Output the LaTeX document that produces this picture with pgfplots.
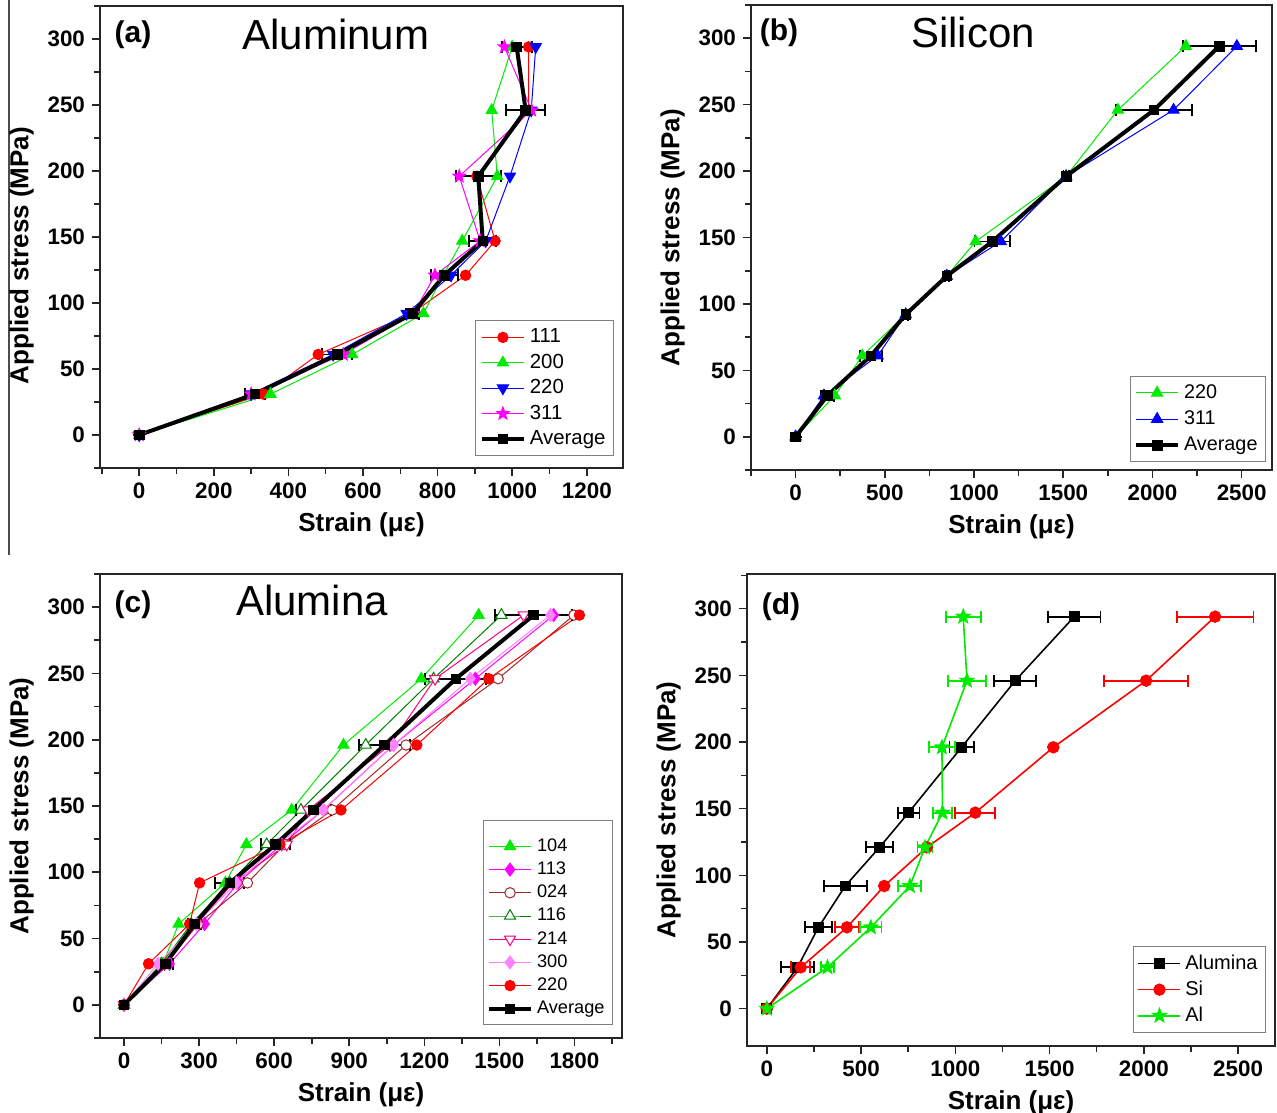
\documentclass[border=0pt]{standalone}
\usepackage{fontspec}
\setmainfont{Liberation Sans}
\usepackage{pgfplots}
\pgfplotsset{compat=1.18}
\usetikzlibrary{plotmarks}

\definecolor{cgreen}{RGB}{0,235,0}
\definecolor{cblue}{RGB}{0,0,255}
\definecolor{cred}{RGB}{255,0,0}
\definecolor{cmag}{RGB}{255,0,255}
\definecolor{cbrown}{RGB}{160,40,40}
\definecolor{cdgreen}{RGB}{0,128,0}
\definecolor{cpink}{RGB}{255,0,128}
\definecolor{cviolet}{RGB}{255,130,255}

\pgfdeclareplotmark{fstar}{%
 \pgfpathmoveto{\pgfqpointpolar{90}{\pgfplotmarksize}}%
 \pgfpathlineto{\pgfqpointpolar{126}{0.42\pgfplotmarksize}}%
 \pgfpathlineto{\pgfqpointpolar{162}{\pgfplotmarksize}}%
 \pgfpathlineto{\pgfqpointpolar{198}{0.42\pgfplotmarksize}}%
 \pgfpathlineto{\pgfqpointpolar{234}{\pgfplotmarksize}}%
 \pgfpathlineto{\pgfqpointpolar{270}{0.42\pgfplotmarksize}}%
 \pgfpathlineto{\pgfqpointpolar{306}{\pgfplotmarksize}}%
 \pgfpathlineto{\pgfqpointpolar{342}{0.42\pgfplotmarksize}}%
 \pgfpathlineto{\pgfqpointpolar{18}{\pgfplotmarksize}}%
 \pgfpathlineto{\pgfqpointpolar{54}{0.42\pgfplotmarksize}}%
 \pgfpathclose\pgfusepathqfillstroke}

\pgfplotsset{
 panel/.style={
   scale only axis,
   axis line style={line width=0.9pt, black!85},
   tick align=outside,
   xtick pos=left, ytick pos=left,
   major tick length=4pt, minor tick length=3pt,
   every tick/.style={black!85, line width=0.8pt},
   ymin=-25, ymax=325, ytick={0,50,...,300},
   minor ytick={-25,25,...,325},
   ticklabel style={font=\bfseries\fontsize{11.2}{13}\selectfont},
   /pgf/number format/assume math mode=true,
   /pgf/number format/1000 sep={},
   label style={font=\bfseries\fontsize{13}{15}\selectfont},
   xlabel={Strain (με)}, ylabel={Applied stress (MPa)},
   legend style={draw=black!50, line width=0.5pt, anchor=south east, at={(1,0)},
     cells={anchor=west}, inner sep=2pt},
   legend image code/.code={\draw[mark repeat=2,mark phase=2,##1] plot coordinates {(0pt,0pt) (10.5pt,0pt) (21pt,0pt)};},
 },
 thin/.style={line width=0.5pt},
 avg/.style={black, line width=2pt, mark=square*, mark size=2.4pt,
   mark options={solid, fill=black, line width=0.4pt},
   error bars/.cd, x dir=both, x explicit,
   error bar style={line width=0.9pt, black},
   error mark options={rotate=90, mark size=3pt, line width=0.9pt, black}},
 eb/.style={error bars/.cd, x dir=both, x explicit,
   error bar style={line width=0.9pt, #1},
   error mark options={rotate=90, mark size=3pt, line width=0.9pt, #1}},
}

\begin{document}
\begin{tikzpicture}
\useasboundingbox (0,0) rectangle (638.5pt,556pt);
\draw[black!70, line width=0.6pt] (4.5pt,556pt) -- (4.5pt,278.5pt);

% ---------------- (a) Aluminum
\begin{axis}[panel, at={(50pt,322pt)}, anchor=south west, width=261.5pt, height=231pt,
  xmin=-105, xmax=1297, xtick={0,200,...,1200}, minor xtick={-100,100,...,1300},
  ylabel style={at={(ticklabel cs:0.46)}},
  legend style={font=\fontsize{10.2}{12}\selectfont, xshift=-4.5pt, yshift=6pt, row sep=0.1pt}]
\addplot[cred, thin, mark=*, mark size=2.6pt, mark options={solid,fill=cred}] coordinates {(0,0) (333,31) (480,61) (730,92) (875,121) (954,147) (905,196) (1044,246) (1044,294)};
\addlegendentry{111}
\addplot[cgreen, thin, mark=triangle*, mark size=3.2pt, mark options={solid,fill=cgreen}] coordinates {(0,0) (352,31) (571,61) (762,92) (815,121) (866,147) (960,196) (945,246) (1000,294)};
\addlegendentry{200}
\addplot[cblue, thin, mark=triangle*, mark size=3.2pt, mark options={solid,fill=cblue,rotate=180}] coordinates {(0,0) (300,31) (520,61) (717,92) (836,121) (929,147) (994,196) (1051,246) (1063,294)};
\addlegendentry{220}
\addplot[cmag, thin, mark=fstar, mark size=3.3pt, mark options={solid,fill=cmag}] coordinates {(0,0) (300,31) (547,61) (735,92) (793,121) (914,147) (858,196) (1052,246) (979,294)};
\addlegendentry{311}
\addplot[avg] coordinates {(0,0) +- (0,0) (310,31) +- (27,0) (531,61) +- (40,0) (733,92) +- (17,0) (818,121) +- (36,0) (921,147) +- (36,0) (909,196) +- (60,0) (1036,246) +- (52,0) (1012,294) +- (40,0)};
\addlegendentry{Average}
\end{axis}

% ---------------- (b) Silicon
\begin{axis}[panel, at={(375.5pt,321pt)}, anchor=south west, width=260.5pt, height=232.5pt,
  xmin=-250, xmax=2670, xtick={0,500,...,2500}, minor xtick={-250,250,...,2750},
  legend style={font=\fontsize{9.9}{12}\selectfont, xshift=-3pt, yshift=4pt, row sep=0.7pt}]
\addplot[cgreen, thin, mark=triangle*, mark size=3.2pt, mark options={solid,fill=cgreen}] coordinates {(0,0) (220,31) (374,61) (617,92) (847,121) (1009,147) (1516,196) (1806,246) (2187,294)};
\addlegendentry{220}
\addplot[cblue, thin, mark=triangle*, mark size=3.2pt, mark options={solid,fill=cblue}] coordinates {(0,0) (159,31) (460,61) (617,92) (847,121) (1150,147) (1516,196) (2118,246) (2473,294)};
\addlegendentry{311}
\addplot[avg] coordinates {(0,0) +- (0,0) (178,31) +- (35,0) (422,61) +- (63,0) (617,92) +- (12,0) (847,121) +- (12,0) (1103,147) +- (100,0) (1516,196) +- (15,0) (2009,246) +- (212,0) (2374,294) +- (204,0)};
\addlegendentry{Average}
\end{axis}

% ---------------- (c) Alumina
\begin{axis}[panel, at={(50pt,37pt)}, anchor=south west, width=261pt, height=232pt,
  xmin=-96, xmax=1990, xtick={0,300,...,1800}, minor xtick={150,450,...,1950},
  legend style={font=\fontsize{9.1}{11}\selectfont, xshift=-4.5pt, yshift=6.5pt, row sep=-0.25pt}]
\addlegendimage{empty legend}\addlegendentry{}
\addplot[cgreen, thin, mark=triangle*, mark size=3.2pt, mark options={solid,fill=cgreen}] coordinates {(0,0) (156,31) (218,61) (405,92) (489,121) (670,147) (877,196) (1188,246) (1417,294)};
\addlegendentry{104}
\addplot[cmag, thin, mark=diamond*, mark size=3.2pt, mark options={solid,fill=cmag}] coordinates {(0,0) (182,31) (322,61) (456,92) (630,121) (796,147) (1077,196) (1404,246) (1717,294)};
\addlegendentry{113}
\addplot[cbrown, thin, mark=*, mark size=2.6pt, mark options={solid,fill=white}] coordinates {(0,0) (169,31) (296,61) (493,92) (643,121) (832,147) (1127,196) (1495,246) (1798,294)};
\addlegendentry{024}
\addplot[cdgreen, thin, mark=triangle*, mark size=3.2pt, mark options={solid,fill=white}] coordinates {(0,0) (149,31) (269,61) (423,92) (570,121) (707,147) (966,196) (1237,246) (1508,294)};
\addlegendentry{116}
\addplot[cpink, thin, mark=triangle*, mark size=3.2pt, mark options={solid,fill=white,rotate=180}] coordinates {(0,0) (162,31) (289,61) (436,92) (650,121) (736,147) (1063,196) (1243,246) (1597,294)};
\addlegendentry{214}
\addplot[cviolet, thin, mark=diamond*, mark size=3.2pt, mark options={solid,fill=cviolet}] coordinates {(0,0) (136,31) (289,61) (449,92) (616,121) (796,147) (1077,196) (1384,246) (1704,294)};
\addlegendentry{300}
\addplot[cred, thin, mark=*, mark size=2.6pt, mark options={solid,fill=cred}] coordinates {(0,0) (98,31) (262,61) (302,92) (623,121) (867,147) (1170,196) (1457,246) (1820,294)};
\addlegendentry{220}
\addplot[avg] coordinates {(0,0) +- (0,0) (165,31) +- (30,0) (282,61) +- (25,0) (423,92) +- (58,0) (605,121) +- (57,0) (756,147) +- (70,0) (1041,196) +- (102,0) (1326,246) +- (122,0) (1637,294) +- (153,0)};
\addlegendentry{Average}
\end{axis}

% ---------------- (d) comparison
\begin{axis}[panel, at={(373.5pt,33pt)}, anchor=south west, width=264pt, height=236pt,
  xmin=-105, xmax=2696, ymin=-28, ymax=326, minor ytick={25,75,...,325},
  xtick={0,500,...,2500}, minor xtick={250,750,...,2750},
  legend style={font=\fontsize{10}{12}\selectfont, xshift=-4.5pt, yshift=6.5pt, row sep=0.3pt}]
\addplot[black, line width=0.8pt, mark=square*, mark size=2.3pt, mark options={solid,fill=black}, eb=black] coordinates {(0,0) +- (0,0) (163,31) +- (88,0) (274,61) +- (73,0) (416,92) +- (114,0) (598,121) +- (73,0) (752,147) +- (58,0) (1033,196) +- (64,0) (1318,246) +- (112,0) (1631,294) +- (139,0)};
\addlegendentry{Alumina}
\addplot[cred, line width=0.8pt, mark=*, mark size=2.7pt, mark options={solid,fill=cred}, eb=cred] coordinates {(0,0) +- (0,0) (180,31) +- (50,0) (425,61) +- (65,0) (623,92) +- (0,0) (849,121) +- (0,0) (1106,147) +- (106,0) (1520,196) +- (0,0) (2012,246) +- (224,0) (2378,294) +- (204,0)};
\addlegendentry{Si}
\addplot[cgreen, line width=0.8pt, mark=fstar, mark size=3.3pt, mark options={solid,fill=cgreen}, eb=cgreen] coordinates {(0,0) +- (0,0) (322,31) +- (33,0) (552,61) +- (56,0) (759,92) +- (61,0) (839,121) +- (40,0) (932,147) +- (50,0) (929,196) +- (69,0) (1062,246) +- (99,0) (1042,294) +- (93,0)};
\addlegendentry{Al}
\end{axis}

% titles and panel labels
\node[font=\bfseries\fontsize{15}{17}\selectfont] at (66.5pt,538.5pt) {(a)};
\node[font=\fontsize{21}{24}\selectfont] at (168pt,538.5pt) {Aluminum};
\node[font=\bfseries\fontsize{15}{17}\selectfont] at (389.5pt,539.5pt) {(b)};
\node[font=\fontsize{21}{24}\selectfont] at (486.5pt,539.5pt) {Silicon};
\node[font=\bfseries\fontsize{15}{17}\selectfont] at (66.5pt,253.5pt) {(c)};
\node[font=\fontsize{21}{24}\selectfont] at (156pt,256pt) {Alumina};
\node[font=\bfseries\fontsize{15}{17}\selectfont] at (390.5pt,252.5pt) {(d)};
\end{tikzpicture}
\end{document}
